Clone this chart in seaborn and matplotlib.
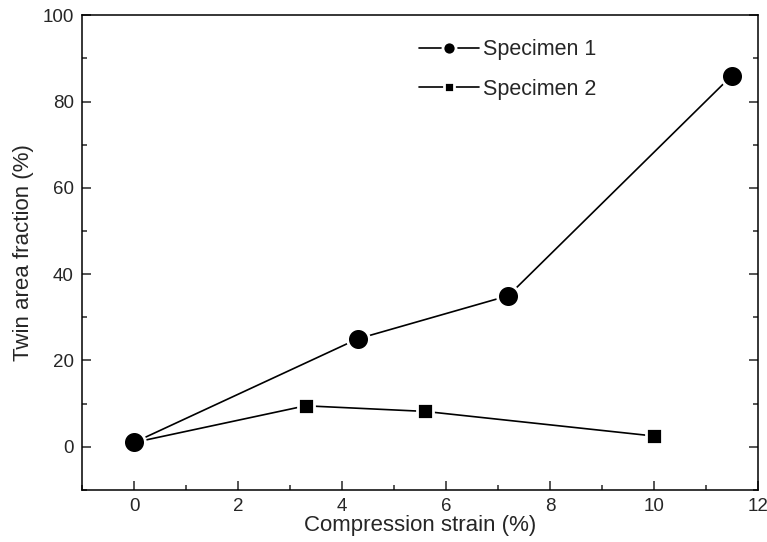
import matplotlib
matplotlib.use("Agg")
import matplotlib.pyplot as plt
from matplotlib.ticker import MultipleLocator
import pandas as pd
import seaborn as sns

# 读取数据
strain_1 = [0, 4.3, 7.2, 11.5]
twin_1 = [1, 25, 35, 86]
strain_2 = [0, 3.3, 5.6, 10]
twin_2 = [1, 9.5, 8.2, 2.5]

df1 = pd.DataFrame({"strain": strain_1, "twin": twin_1})
df2 = pd.DataFrame({"strain": strain_2, "twin": twin_2})

sns.set_style("ticks")
plt.rcParams["font.family"] = ["Liberation Sans", "DejaVu Sans"]

fig = plt.figure(figsize=(7.67, 5.42), dpi=100)
ax = fig.add_axes([0.107, 0.096, 0.881, 0.876])

# 先画 Specimen 2，让 Specimen 1 的圆点盖在 (0,1) 上
sns.lineplot(x="strain", y="twin", data=df2, ax=ax, color="black", lw=1.2,
             marker="s", markersize=11.6, markeredgecolor="white",
             markeredgewidth=2, label="Specimen 2")
sns.lineplot(x="strain", y="twin", data=df1, ax=ax, color="black", lw=1.2,
             marker="o", markersize=15.7, markeredgecolor="white",
             markeredgewidth=2, label="Specimen 1")

ax.set_xlim(-1, 12)
ax.set_ylim(-10, 100)
ax.xaxis.set_major_locator(MultipleLocator(2))
ax.xaxis.set_minor_locator(MultipleLocator(1))
ax.yaxis.set_major_locator(MultipleLocator(20))
ax.yaxis.set_minor_locator(MultipleLocator(10))
ax.tick_params(which="both", direction="in", right=True, top=False,
               width=1.1, labelsize=13.5, pad=6)
ax.tick_params(which="major", length=6.5)
ax.tick_params(which="minor", length=3.6)
for s in ax.spines.values():
    s.set_visible(True)
    s.set_linewidth(1.1)
    s.set_color("black")

ax.set_xlabel("Compression strain (%)", fontsize=16, labelpad=0)
ax.set_ylabel("Twin area fraction (%)", fontsize=16, labelpad=6)

handles, labels = ax.get_legend_handles_labels()
order = [labels.index("Specimen 1"), labels.index("Specimen 2")]
ax.legend([handles[i] for i in order], [labels[i] for i in order],
          loc="upper left", bbox_to_anchor=(0.47, 0.99), frameon=False,
          fontsize=15.5, markerscale=0.6, handlelength=2.8,
          handletextpad=0.15, labelspacing=0.85)

plt.savefig("out.png", dpi=100)
